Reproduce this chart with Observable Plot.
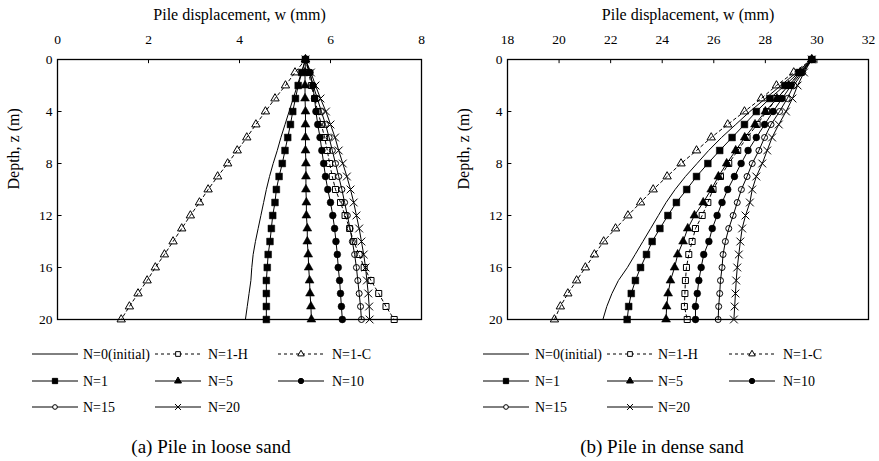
<!DOCTYPE html>
<html><head><meta charset="utf-8">
<script src="https://cdn.jsdelivr.net/npm/d3@7"></script>
<script src="https://cdn.jsdelivr.net/npm/@observablehq/plot@0.6"></script>
<style>
html,body{margin:0;padding:0;background:#fff;}
#wrap{position:relative;width:879px;height:461px;font-family:"Liberation Serif","Times New Roman",serif;overflow:hidden;background:#fff;}
.chart{position:absolute;top:0;}
.cap{position:absolute;font-size:19px;text-align:center;width:320px;top:435px;line-height:24px;}
#legend{position:absolute;left:0;top:0;}
</style></head><body><div id="wrap"></div>
<script>
// ---------- data ----------
const depth = [0,1,2,3,4,5,6,7,8,9,10,11,12,13,14,15,16,17,18,19,20];
const seriesNames = ["N=0(initial)","N=1-H","N=1-C","N=1","N=5","N=10","N=15","N=20"];

// (a) loose sand, pile displacement w (mm)
const looseN0  = [5.45,5.36,5.27,5.18,5.09,5.00,4.91,4.83,4.74,4.66,4.59,4.53,4.47,4.41,4.35,4.30,4.27,4.25,4.21,4.17,4.13];
const looseN1H = [5.45,5.52,5.58,5.65,5.72,5.80,5.87,5.93,5.98,6.04,6.11,6.22,6.32,6.42,6.51,6.63,6.74,6.89,7.06,7.22,7.40];
const looseN1C = [5.45,5.22,5.01,4.78,4.57,4.36,4.16,3.95,3.74,3.52,3.31,3.12,2.92,2.73,2.54,2.35,2.15,1.97,1.77,1.58,1.40];
const looseN1  = [5.45,5.37,5.29,5.23,5.17,5.12,5.06,5.00,4.94,4.87,4.81,4.78,4.73,4.70,4.67,4.63,4.61,4.59,4.59,4.59,4.59];
const looseN5  = [5.45,5.44,5.44,5.44,5.45,5.45,5.45,5.45,5.46,5.46,5.46,5.47,5.47,5.49,5.49,5.51,5.52,5.54,5.55,5.57,5.58];
const looseN10 = [5.45,5.55,5.61,5.65,5.68,5.72,5.77,5.81,5.85,5.89,5.94,6.00,6.05,6.09,6.12,6.15,6.17,6.20,6.22,6.24,6.26];
const looseN15 = [5.45,5.54,5.62,5.71,5.80,5.89,5.97,6.04,6.11,6.18,6.25,6.31,6.37,6.43,6.48,6.53,6.57,6.60,6.63,6.66,6.68];
const looseN20 = [5.45,5.57,5.67,5.78,5.90,6.00,6.10,6.18,6.27,6.36,6.44,6.51,6.57,6.63,6.68,6.73,6.77,6.80,6.83,6.85,6.86];

// (b) dense sand, pile displacement w (mm)
const denseN0  = [29.8,29.2,28.6,28.0,27.4,26.85,26.3,25.8,25.35,24.9,24.5,24.15,23.85,23.55,23.25,22.95,22.65,22.3,22.05,21.85,21.7];
const denseN1H = [29.8,29.35,28.9,28.45,28.05,27.68,27.29,26.93,26.58,26.26,25.97,25.77,25.55,25.29,25.16,25.03,24.94,24.90,24.88,24.86,24.97];
const denseN1C = [29.8,29.1,28.43,27.84,27.19,26.54,25.90,25.33,24.73,24.19,23.65,23.16,22.67,22.19,21.73,21.37,21.02,20.68,20.34,20.05,19.82];
const denseN1  = [29.8,29.3,28.75,28.17,27.65,27.19,26.71,26.23,25.77,25.33,24.95,24.55,24.22,23.91,23.61,23.39,23.16,22.96,22.80,22.70,22.64];
const denseN5  = [29.8,29.35,28.9,28.45,28.0,27.6,27.2,26.85,26.5,26.18,25.9,25.59,25.25,24.99,24.81,24.60,24.48,24.32,24.23,24.17,24.15];
const denseN10 = [29.8,29.4,29.0,28.65,28.3,27.97,27.65,27.33,27.06,26.8,26.54,26.32,26.13,25.94,25.81,25.61,25.51,25.42,25.36,25.29,25.29];
const denseN15 = [29.8,29.45,29.1,28.85,28.55,28.22,27.97,27.75,27.49,27.29,27.07,26.91,26.75,26.58,26.45,26.36,26.32,26.26,26.23,26.19,26.17];
const denseN20 = [29.8,29.5,29.25,29.05,28.8,28.52,28.26,28.07,27.88,27.65,27.49,27.40,27.23,27.10,27.03,26.97,26.91,26.87,26.84,26.81,26.78];

const looseTicksX = [0,2,4,6,8];
const denseTicksX = [18,20,22,24,26,28,30,32];
const ticksY = [0,4,8,12,16,20];
const xTitle = "Pile displacement, w (mm)";
const yTitle = "Depth, z (m)";
const captions = ["(a) Pile in loose sand", "(b) Pile in dense sand"];

// ---------- styles ----------
const styleOf = {
  "N=0(initial)": {symbol: null, dash: null},
  "N=1-H": {symbol: "square", open: true, dash: "3,3", r: 3.4},
  "N=1-C": {symbol: "triangle", open: true, dash: "3,3", r: 3.1},
  "N=1":   {symbol: "square", open: false, dash: null, r: 3.8},
  "N=5":   {symbol: "triangle", open: false, dash: null, r: 3.3},
  "N=10":  {symbol: "circle", open: false, dash: null, r: 3.4},
  "N=15":  {symbol: "circle", open: true, dash: null, r: 3.0},
  "N=20":  {symbol: "times", open: true, dash: null, r: 3.6}
};

function table(cols) {
  const rows = [];
  seriesNames.forEach((s, i) => cols[i].forEach((w, j) => rows.push({series: s, z: depth[j], w})));
  return rows;
}

function makeChart({cols, domain, ticks, width, marginLeft, marginRight, tickDx}) {
  const rows = table(cols);
  const marks = [];
  for (const s of seriesNames) {
    const st = styleOf[s];
    const d = rows.filter(r => r.series === s);
    marks.push(Plot.line(d, {x: "w", y: "z", stroke: "#000", strokeWidth: 1, strokeDasharray: st.dash || undefined}));
  }
  for (const s of seriesNames) {
    const st = styleOf[s];
    if (!st.symbol) continue;
    const d = rows.filter(r => r.series === s);
    marks.push(Plot.dot(d, {x: "w", y: "z", symbol: st.symbol, r: st.r,
      fill: st.open ? "none" : "#000", stroke: "#000", strokeWidth: st.open ? 1 : 0.5}));
  }
  marks.push(Plot.ruleX(ticks, {x: d => d, y1: () => 0, y2: () => 0.32, stroke: "#000", strokeWidth: 1}));
  marks.push(Plot.ruleY(ticksY, {y: d => d, x1: () => domain[0], x2: () => domain[0] + tickDx, stroke: "#000", strokeWidth: 1}));
  marks.push(Plot.frame({stroke: "#000", strokeWidth: 1.3}));
  marks.push(Plot.axisX({anchor: "top", ticks, tickSize: 0, tickPadding: 16, label: null, fontSize: 13.5}));
  marks.push(Plot.axisY({anchor: "left", ticks: ticksY, tickSize: 0, tickPadding: 5, label: null, fontSize: 13.5}));
  marks.push(Plot.text([xTitle], {frameAnchor: "top", dy: -51, fontSize: 16, text: d => d}));
  marks.push(Plot.text([yTitle], {frameAnchor: "left", dx: -44, rotate: -90, fontSize: 16, text: d => d}));
  return Plot.plot({
    width, height: 330, marginTop: 59, marginBottom: 11, marginLeft, marginRight,
    style: {fontFamily: '"Liberation Serif","Times New Roman",serif', fontSize: "13.5px", color: "#000", background: "transparent", overflow: "visible"},
    x: {domain},
    y: {domain: [0, 20], reverse: true},
    marks
  });
}

const wrap = document.getElementById("wrap");
const c1 = makeChart({cols: [looseN0, looseN1H, looseN1C, looseN1, looseN5, looseN10, looseN15, looseN20],
  domain: [0, 8], ticks: looseTicksX, width: 440, marginLeft: 57, marginRight: 19, tickDx: 0.1});
c1.classList.add("chart"); c1.style.left = "0px";
wrap.appendChild(c1);
const c2 = makeChart({cols: [denseN0, denseN1H, denseN1C, denseN1, denseN5, denseN10, denseN15, denseN20],
  domain: [18, 32], ticks: denseTicksX, width: 429, marginLeft: 57, marginRight: 11, tickDx: 0.17});
c2.classList.add("chart"); c2.style.left = "450px";
wrap.appendChild(c2);

// ---------- legends ----------
const svg = d3.select(wrap).append("svg").attr("id", "legend").attr("width", 879).attr("height", 461);
const symType = {square: d3.symbolSquare, triangle: d3.symbolTriangle, circle: d3.symbolCircle, times: d3.symbolTimes};
const legendLayouts = [
  {cols: [[32, 83], [155, 208], [278, 332]]},
  {cols: [[483, 535], [607, 658], [729, 783]]}
];
const rowsY = [354, 381, 407];
legendLayouts.forEach(L => {
  seriesNames.forEach((s, i) => {
    const [x0, tx] = L.cols[i % 3];
    const y = rowsY[Math.floor(i / 3)];
    const st = styleOf[s];
    svg.append("line").attr("x1", x0).attr("x2", x0 + 46).attr("y1", y).attr("y2", y)
      .attr("stroke", "#000").attr("stroke-width", 1).attr("stroke-dasharray", st.dash || null);
    if (st.symbol) {
      const lr = st.r * 0.78;
      svg.append("path").attr("transform", `translate(${x0 + 23},${y})`)
        .attr("d", d3.symbol(symType[st.symbol], Math.PI * lr * lr)())
        .attr("fill", st.open ? "#fff" : "#000").attr("stroke", "#000").attr("stroke-width", 1);
    }
    svg.append("text").attr("x", tx).attr("y", y).attr("dy", "0.33em")
      .attr("font-size", 14).attr("font-family", '"Liberation Serif","Times New Roman",serif').text(s);
  });
});
captions.forEach((c, i) => {
  const d = document.createElement("div");
  d.className = "cap"; d.textContent = c;
  d.style.left = (i === 0 ? 211 - 160 : 662 - 160) + "px";
  wrap.appendChild(d);
});
</script></body></html>
